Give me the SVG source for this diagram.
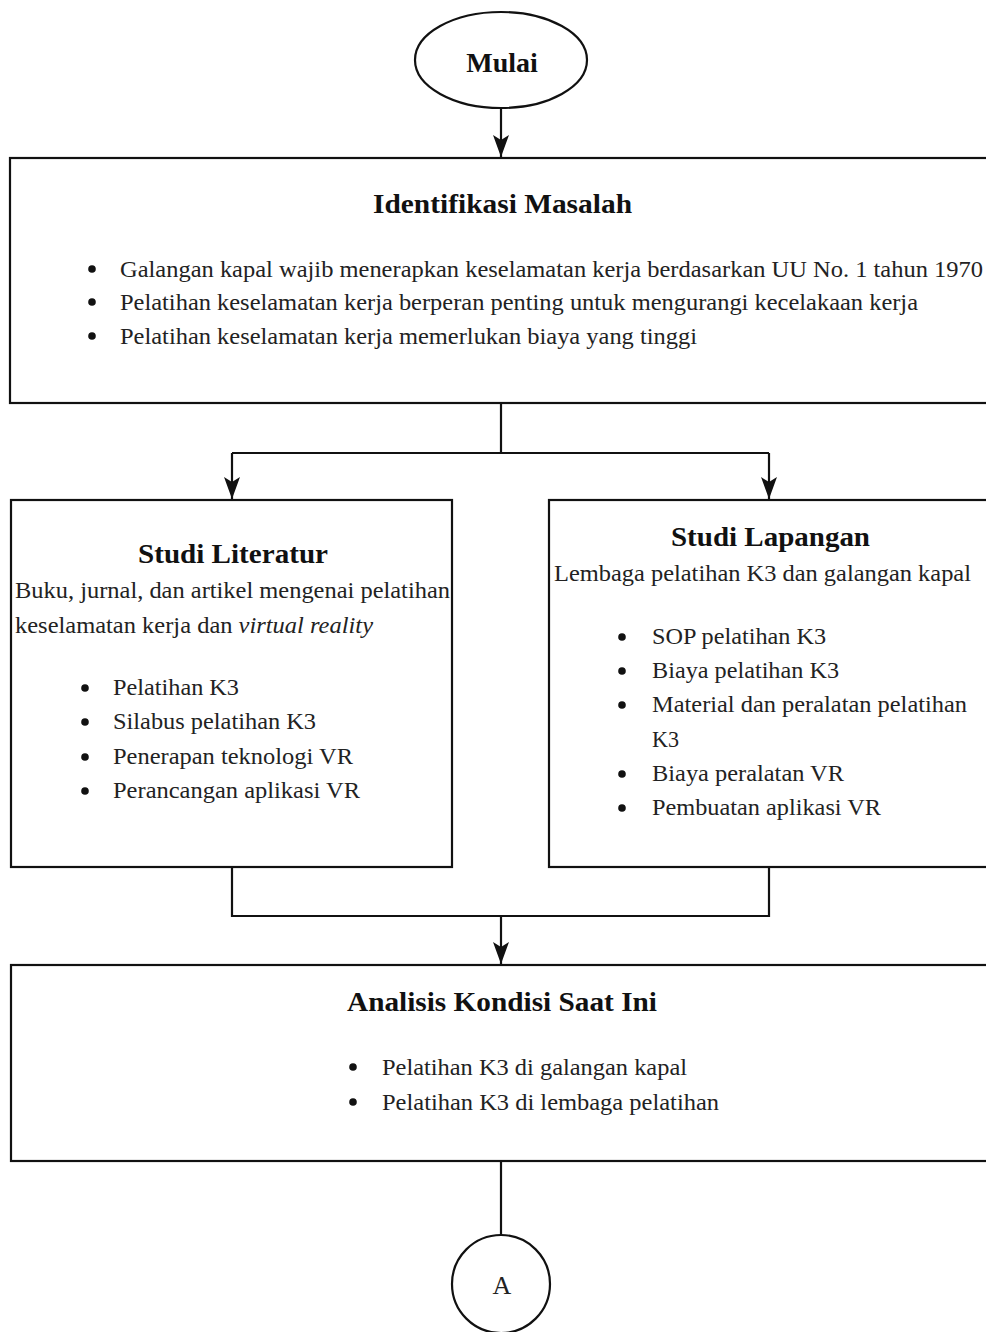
<svg xmlns="http://www.w3.org/2000/svg" width="986" height="1332" viewBox="0 0 986 1332">
<defs>
<marker id="arr" markerUnits="userSpaceOnUse" markerWidth="22" markerHeight="16" refX="22" refY="8" orient="auto">
<path d="M0,0 L22,8 L0,16 L5,8 z" fill="#111"/>
</marker>
<style>
.box{fill:#fff;stroke:#111;stroke-width:2.2}
.ln{fill:none;stroke:#111;stroke-width:2.2}
.t{font-family:"Liberation Serif","Times New Roman",serif;fill:#222}
.h{font-weight:bold;fill:#111}
.b{font-size:23px}
.c{font-size:24px}
.bul{fill:#111}
</style>
</defs>
<rect width="986" height="1332" fill="#fff"/>

<g id="connectors">
<path class="ln" d="M501,108 L501,157" marker-end="url(#arr)"/>
<path class="ln" d="M501,403 L501,453 M232,453 L769,453"/>
<path class="ln" d="M232,453 L232,499" marker-end="url(#arr)"/>
<path class="ln" d="M769,453 L769,499" marker-end="url(#arr)"/>
<path class="ln" d="M232,867 L232,916 L769,916 L769,867"/>
<path class="ln" d="M501,916 L501,964" marker-end="url(#arr)"/>
<path class="ln" d="M501,1161 L501,1235"/>
</g>

<g id="mulai">
<ellipse cx="501" cy="60" rx="86" ry="48" class="box"/>
<text class="t h" x="502" y="72" font-size="28" text-anchor="middle">Mulai</text>
</g>

<g id="identifikasi">
<rect x="10" y="158" width="990" height="245" class="box"/>
<text class="t h" x="373" y="213" font-size="27" textLength="259" lengthAdjust="spacingAndGlyphs">Identifikasi Masalah</text>
<circle class="bul" cx="92" cy="269" r="3.8"/>
<circle class="bul" cx="92" cy="302" r="3.8"/>
<circle class="bul" cx="92" cy="336" r="3.8"/>
<text class="t c" x="120" y="277" textLength="863" lengthAdjust="spacingAndGlyphs">Galangan kapal wajib menerapkan keselamatan kerja berdasarkan UU No. 1 tahun 1970</text>
<text class="t c" x="120" y="310" textLength="798" lengthAdjust="spacingAndGlyphs">Pelatihan keselamatan kerja berperan penting untuk mengurangi kecelakaan kerja</text>
<text class="t c" x="120" y="344" textLength="577" lengthAdjust="spacingAndGlyphs">Pelatihan keselamatan kerja memerlukan biaya yang tinggi</text>
</g>

<g id="studi-literatur">
<rect x="11" y="500" width="441" height="367" class="box"/>
<text class="t h" x="138" y="563" font-size="28" textLength="190" lengthAdjust="spacingAndGlyphs">Studi Literatur</text>
<text class="t b" x="15" y="598" textLength="435" lengthAdjust="spacingAndGlyphs">Buku, jurnal, dan artikel mengenai pelatihan</text>
<text class="t b" x="15" y="633" textLength="358" lengthAdjust="spacingAndGlyphs">keselamatan kerja dan <tspan font-style="italic">virtual reality</tspan></text>
<circle class="bul" cx="85" cy="688" r="3.8"/>
<circle class="bul" cx="85" cy="722" r="3.8"/>
<circle class="bul" cx="85" cy="757" r="3.8"/>
<circle class="bul" cx="85" cy="791" r="3.8"/>
<text class="t b" x="113" y="695" textLength="126" lengthAdjust="spacingAndGlyphs">Pelatihan K3</text>
<text class="t b" x="113" y="729" textLength="203" lengthAdjust="spacingAndGlyphs">Silabus pelatihan K3</text>
<text class="t b" x="113" y="764" textLength="240" lengthAdjust="spacingAndGlyphs">Penerapan teknologi VR</text>
<text class="t b" x="113" y="798" textLength="247" lengthAdjust="spacingAndGlyphs">Perancangan aplikasi VR</text>
</g>

<g id="studi-lapangan">
<rect x="549" y="500" width="450" height="367" class="box"/>
<text class="t h" x="671" y="546" font-size="28" textLength="199" lengthAdjust="spacingAndGlyphs">Studi Lapangan</text>
<text class="t b" x="554" y="581" textLength="417" lengthAdjust="spacingAndGlyphs">Lembaga pelatihan K3 dan galangan kapal</text>
<circle class="bul" cx="622" cy="637" r="3.8"/>
<circle class="bul" cx="622" cy="671" r="3.8"/>
<circle class="bul" cx="622" cy="705" r="3.8"/>
<circle class="bul" cx="622" cy="774" r="3.8"/>
<circle class="bul" cx="622" cy="808" r="3.8"/>
<text class="t b" x="652" y="644" textLength="174" lengthAdjust="spacingAndGlyphs">SOP pelatihan K3</text>
<text class="t b" x="652" y="678" textLength="187" lengthAdjust="spacingAndGlyphs">Biaya pelatihan K3</text>
<text class="t b" x="652" y="712" textLength="315" lengthAdjust="spacingAndGlyphs">Material dan peralatan pelatihan</text>
<text class="t b" x="652" y="747" textLength="27" lengthAdjust="spacingAndGlyphs">K3</text>
<text class="t b" x="652" y="781" textLength="192" lengthAdjust="spacingAndGlyphs">Biaya peralatan VR</text>
<text class="t b" x="652" y="815" textLength="229" lengthAdjust="spacingAndGlyphs">Pembuatan aplikasi VR</text>
</g>

<g id="analisis">
<rect x="11" y="965" width="990" height="196" class="box"/>
<text class="t h" x="347" y="1011" font-size="27" textLength="310" lengthAdjust="spacingAndGlyphs">Analisis Kondisi Saat Ini</text>
<circle class="bul" cx="353" cy="1067" r="3.8"/>
<circle class="bul" cx="353" cy="1102" r="3.8"/>
<text class="t c" x="382" y="1075" textLength="305" lengthAdjust="spacingAndGlyphs">Pelatihan K3 di galangan kapal</text>
<text class="t c" x="382" y="1110" textLength="337" lengthAdjust="spacingAndGlyphs">Pelatihan K3 di lembaga pelatihan</text>
</g>

<g id="connector-a">
<circle cx="501" cy="1284" r="49" class="box"/>
<text class="t" x="502" y="1294" font-size="26" text-anchor="middle">A</text>
</g>
</svg>
